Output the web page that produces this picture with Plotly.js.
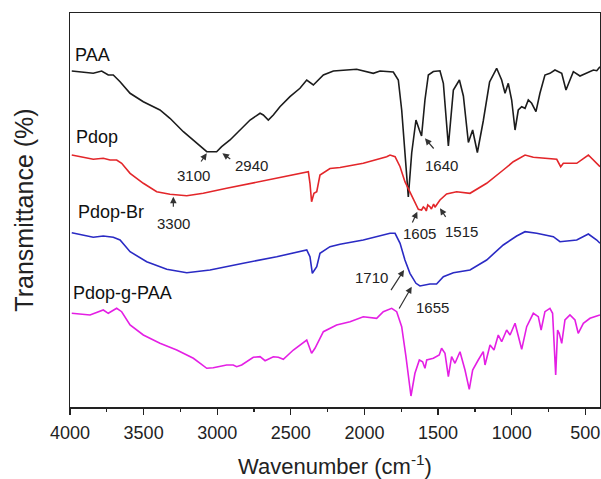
<!DOCTYPE html>
<html>
<head>
<meta charset="utf-8">
<script src="https://cdn.plot.ly/plotly-3.0.1.min.js"></script>
<style>html,body{margin:0;padding:0;background:#fff;}#chart{width:601px;height:479px;}</style>
</head>
<body>
<div id="chart"></div>
<script>
// Wavenumber (cm-1) and transmittance (arbitrary, offset) readings for each spectrum
const paaWn = [3988,3842,3785,3740,3706,3660,3592,3502,3389,3321,3230,3139,3071,3004,2970,2913,2845,2777,2709,2687,2653,2619,2574,2506,2438,2392,2347,2279,2211,2053,1940,1894,1804,1770,1747,1725,1702,1679,1650,1627,1612,1589,1566,1532,1487,1464,1430,1396,1355,1328,1294,1265,1233,1193,1150,1102,1068,1045,1023,1000,977,955,932,909,887,864,835,808,774,740,706,660,631,604,581,536,490,445,422,400];
const paaT = [336,333.7,336,332,332,325.3,313.7,305.3,297,288.7,275.3,263.7,255.3,255.3,260.3,267,277,287,293.7,292,287,292,300.3,310.3,318.7,327,322,332,336,337.7,333.7,336,335,327,297,252,210,254,287,277,271,307,332,335.5,336.2,323.7,261,317,327,311,264.5,277,254.5,286,325,338.7,327,313.7,323.7,307,277,297,300.3,298.7,307,303.7,295.3,313.7,332,333.7,337,333.7,317,327,335.3,331,334.3,337,336.3,340.3];

const pdopWn = [3988,3842,3774,3728,3683,3649,3592,3502,3411,3321,3207,3095,2936,2709,2483,2381,2370,2359,2343,2324,2302,2256,2234,2166,2008,1849,1826,1792,1758,1725,1691,1657,1634,1612,1600,1589,1580,1570,1555,1545,1530,1521,1487,1442,1374,1283,1170,1057,989,909,853,694,667,649,558,479,434,400];
const pdopT = [252,247.7,248.7,247,247,243.7,233.7,223.7,215.3,212.7,211.3,213.7,218.7,225.3,232,235.3,223.7,205.3,213.7,215.3,232,236.3,238.5,239.5,243.7,250.3,252,250.3,240.3,225.3,215.3,205.3,197.7,197,200,198.7,196,202,200.3,198,203,199.7,207,213,215.3,213.7,223.7,237,245.3,252,249.7,247.7,240.3,243.7,243.7,252,245.3,240.3];

const pdopBrWn = [3988,3842,3774,3706,3660,3592,3479,3343,3207,3049,2823,2596,2392,2370,2354,2324,2302,2256,2234,2166,2008,1826,1792,1758,1725,1691,1650,1623,1555,1510,1464,1396,1283,1170,1057,966,909,830,717,672,558,479,422,400];
const pdopBrT = [174.3,169.7,171,169.7,167,155.3,145.3,137.7,134.3,137,143.7,150.3,157,150.3,133.7,140.3,153.7,158.7,160.3,162.7,167,173.7,173.7,163.7,147,133.7,123.7,121,123,123,130.3,134.3,137,147,162,171,175.3,173.7,170.3,165.3,167,173,167,163.7];

const pdopgWn = [3988,3864,3774,3740,3683,3649,3592,3502,3389,3275,3162,3071,3027,2936,2891,2868,2834,2755,2709,2675,2619,2585,2551,2483,2392,2359,2336,2279,2189,2098,2008,1917,1872,1815,1781,1747,1718,1684,1657,1627,1605,1589,1577,1532,1492,1476,1453,1430,1408,1385,1351,1317,1288,1265,1227,1193,1181,1147,1120,1091,1068,1034,1011,977,932,898,853,819,800,774,740,722,701,688,677,660,638,604,570,548,513,468,422,400];
const pdopgT = [93.7,92,97,93.7,98.7,95.3,82,72,63.7,57,48.7,38.7,39.3,42,42,40.3,42,49.7,50.3,46.3,50.3,49.7,47.7,57,67,53.7,58.7,75.3,82,85.3,90.3,88.7,95.3,98.7,95.3,80.3,50.3,11,33.7,47,45.3,38.7,47,48.7,52,58.7,53.7,30.3,50.3,43.7,55.3,37,17.7,37,47,55.3,42,62,57,72,65.3,77,72,83.7,57.7,80.3,93.7,90.3,77,95.3,98.7,93.7,32,77,73.7,63.7,87,92,87,73.7,83.7,88.7,91,92];

const seriesNames = ["PAA","Pdop","Pdop-Br","Pdop-g-PAA"];
const xTickVals = [4000,3500,3000,2500,2000,1500,1000,500];
const peakLabels = ["3100","2940","3300","1640","1605","1515","1710","1655"];

const colors = ["#1c1c1c","#e3262a","#2a2ac4","#e41fe4"];
const xs = [paaWn,pdopWn,pdopBrWn,pdopgWn];
const ys = [paaT,pdopT,pdopBrT,pdopgT];
const traces = xs.map((x,i)=>({x:x,y:ys[i],type:'scatter',mode:'lines',name:seriesNames[i],
  line:{color:colors[i],width:1.6},hoverinfo:'skip'}));

const F = 'Arial, "Liberation Sans", sans-serif';
// series name labels
const nameAnn = [
  {x:3980,y:352},{x:3973,y:270},{x:3959,y:195},{x:3993,y:114}
].map((p,i)=>({x:p.x,y:p.y,xref:'x',yref:'y',text:seriesNames[i],showarrow:false,xanchor:'left',yanchor:'middle',font:{family:F,size:18,color:'#111'}}));

// peak arrows (head in data coords, tail offset in px) and separate text
const arrows = [
  {hx:3071,hy:253.7,ax:-6.7,ay:9.7,tx:3161,ty:232},
  {hx:2965,hy:253.7,ax:9.4,ay:6.7,tx:2764,ty:241.5},
  {hx:3298,hy:210.3,ax:0,ay:11.6,tx:3298,ty:184},
  {hx:1589,hy:268.7,ax:10,ay:11.7,tx:1480,ty:242},
  {hx:1641,hy:195.3,ax:-5.6,ay:12.3,tx:1623,ty:173.7},
  {hx:1487,hy:198.7,ax:6.7,ay:10,tx:1344,ty:176},
  {hx:1731,hy:137,ax:-14,ay:21.7,tx:1951,ty:129.5},
  {hx:1679,hy:120.3,ax:-13.4,ay:23.3,tx:1538,ty:100}
];
const arrowAnn = [];
arrows.forEach((a,i)=>{
  arrowAnn.push({x:a.hx,y:a.hy,xref:'x',yref:'y',ax:a.ax,ay:a.ay,axref:'pixel',ayref:'pixel',text:'',showarrow:true,arrowhead:2,arrowsize:1.1,arrowwidth:1.2,arrowcolor:'#333',standoff:0,startstandoff:0});
  arrowAnn.push({x:a.tx,y:a.ty,xref:'x',yref:'y',text:peakLabels[i],showarrow:false,xanchor:'center',yanchor:'middle',font:{family:F,size:15,color:'#222'}});
});

const layout = {
  width:601,height:479,
  margin:{l:70,r:1,t:13,b:72},
  paper_bgcolor:'#fff',plot_bgcolor:'#fff',
  showlegend:false,
  font:{family:F,color:'#111'},
  xaxis:{range:[4000,400],tickvals:xTickVals,ticktext:xTickVals.map(String),
    ticks:'outside',ticklen:6,tickwidth:1.3,tickcolor:'#222',ticklabelstandoff:3,
    minor:{dtick:250,tick0:0,ticks:'outside',ticklen:3,tickwidth:1.3,tickcolor:'#222'},
    showline:true,linecolor:'#222',linewidth:1.5,mirror:true,showgrid:false,zeroline:false,
    tickfont:{family:F,size:18,color:'#222'},
    title:{text:'Wavenumber (cm<sup>-1</sup>)',font:{family:F,size:22,color:'#222'},standoff:16}},
  yaxis:{range:[0,394],showticklabels:false,ticks:'',showline:true,linecolor:'#222',linewidth:1.5,mirror:true,
    showgrid:false,zeroline:false,
    title:{text:'Transmittance (%)',font:{family:F,size:25,color:'#222'},standoff:28}},
  annotations:nameAnn.concat(arrowAnn)
};
Plotly.newPlot('chart',traces,layout,{displayModeBar:false,staticPlot:true});
</script>
</body>
</html>
